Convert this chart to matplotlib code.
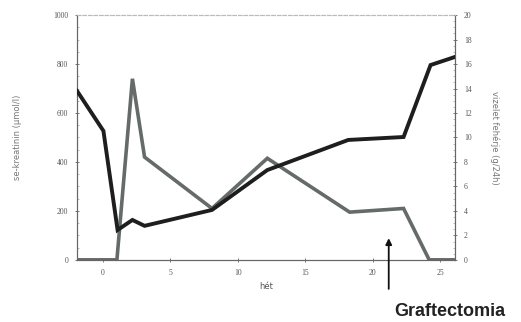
import matplotlib
matplotlib.use("Agg")
import matplotlib.pyplot as plt
from matplotlib.ticker import MultipleLocator

# Data
weeks_creat = [-1.9, 0.05, 1.1, 2.2, 3.1, 8.1, 12.2, 18.2, 22.3, 24.3, 26.1]
creatinine = [690, 527, 122, 163, 139, 204, 367, 490, 502, 796, 829]

weeks_prot = [-1.9, 1.05, 2.2, 3.1, 8.1, 12.2, 18.3, 22.3, 24.2, 26.1]
protein = [0, 0, 14.8, 8.4, 4.2, 8.3, 3.9, 4.2, 0, 0]

x_ticks = [0, 5, 10, 15, 20, 25]
left_ticks = [0, 200, 400, 600, 800, 1000]
right_ticks = [0, 2, 4, 6, 8, 10, 12, 14, 16, 18, 20]
event_week = 21.2

tick_color = "#555555"
fig = plt.figure(figsize=(5.21, 3.22), dpi=100)
ax = fig.add_axes([0.148, 0.193, 0.725, 0.760])
ax2 = ax.twinx()

ax2.plot(weeks_prot, protein, color="#656b68", lw=2.6, solid_joinstyle="miter", zorder=2)
ax.plot(weeks_creat, creatinine, color="#1e1e1e", lw=2.8, solid_joinstyle="miter", zorder=3)
ax.set_zorder(ax2.get_zorder() + 1)
ax.patch.set_visible(False)

ax.set_xlim(-1.9, 26.1)
ax.set_ylim(0, 1000)
ax2.set_ylim(0, 20)
ax.set_xticks(x_ticks)
ax.set_yticks(left_ticks)
ax2.set_yticks(right_ticks)
ax2.yaxis.set_minor_locator(MultipleLocator(0.5))
ax.yaxis.set_minor_locator(MultipleLocator(50))

tfont = dict(fontsize=5.5, color=tick_color, family="Liberation Serif")
ax.set_xticklabels([str(t) for t in x_ticks], **tfont)
ax.set_yticklabels([str(t) for t in left_ticks], **tfont)
ax2.set_yticklabels([str(t) for t in right_ticks], **tfont)

for a in (ax, ax2):
    a.tick_params(which="major", direction="inout", length=3, width=0.6, color="#666666", pad=5)
    a.tick_params(which="minor", direction="in", length=1.5, width=0.4, color="#888888")
    for s in a.spines.values():
        s.set_color("#666666")
        s.set_linewidth(0.8)
    a.spines["top"].set_linestyle((0, (3, 2)))
    a.spines["top"].set_color("#bbbbbb")

ax.set_xlabel("hét", fontsize=6, color=tick_color, labelpad=4)
ax.set_ylabel("se-kreatinin (µmol/l)", fontsize=6, color="#777777", labelpad=22)
ax2.set_ylabel("vizelet fehérje (g/24h)", fontsize=6, color="#777777", rotation=270, labelpad=20)

ax.annotate("", xy=(event_week, 100), xytext=(event_week, -130),
            xycoords="data", textcoords="data", annotation_clip=False,
            arrowprops=dict(arrowstyle="-|>", color="#111111", lw=1.3, mutation_scale=9))
fig.text(0.864, 0.034, "Graftectomia", ha="center", va="center",
         fontsize=13, fontweight="bold", family="Liberation Sans", color="#222222")

fig.savefig("out.png", dpi=100)
